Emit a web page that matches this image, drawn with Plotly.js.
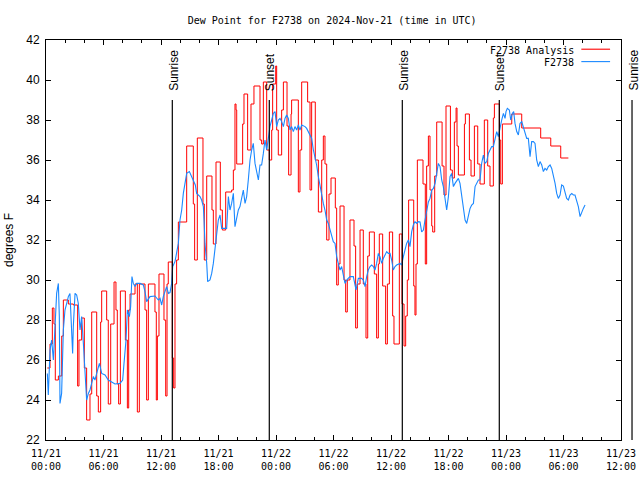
<!DOCTYPE html>
<html>
<head>
<meta charset="utf-8">
<script src="https://cdn.plot.ly/plotly-3.0.1.min.js"></script>
<style>html,body{margin:0;padding:0;background:#fff;}#chart{width:640px;height:480px;}</style>
</head>
<body>
<div id="chart"></div>
<script>
// Hours since 2024-11-21 00:00 UTC
const analysisHours = [0.14,0.42,0.66,0.83,0.97,1.29,1.64,1.81,2.33,2.85,3.30,3.44,3.72,4.00,4.24,4.59,4.77,5.29,5.46,5.70,5.81,6.33,6.50,6.75,7.10,7.30,7.44,7.58,7.76,8.28,8.49,8.63,8.77,9.29,9.53,9.74,10.33,10.50,10.68,11.37,11.51,11.62,11.79,12.31,12.49,12.63,12.76,13.18,13.32,13.46,13.63,13.81,14.68,15.37,15.51,15.79,16.38,16.52,16.77,17.32,17.46,17.74,18.19,18.40,18.75,19.37,19.55,19.72,19.83,19.90,20.52,20.66,21.04,21.39,21.70,22.33,22.50,22.68,23.03,23.30,23.55,23.65,23.97,24.07,24.24,24.59,24.77,25.15,25.32,25.57,25.63,26.33,26.50,26.68,27.30,27.55,27.72,28.10,28.42,28.77,28.94,29.11,29.29,29.53,29.74,30.19,30.33,30.50,30.68,31.10,31.27,31.44,31.72,32.14,32.31,32.49,32.77,33.11,33.39,33.57,33.74,34.26,34.50,34.68,34.78,35.13,35.44,35.62,35.83,36.17,36.31,36.87,37.15,37.36,37.53,37.70,37.84,38.37,38.50,38.61,38.75,39.34,39.58,39.72,39.90,40.07,40.25,40.35,40.56,40.77,41.33,41.53,41.74,42.20,42.40,42.61,42.79,42.89,43.03,43.66,43.76,44.18,44.35,44.70,45.05,45.29,45.74,46.09,46.33,46.68,46.79,47.31,47.45,47.62,48.60,49.64,51.62,52.67,53.71,54.51];
const analysisDewF = [25.6,26.8,28.6,27.8,25.0,25.2,27.2,29.0,28.8,28.75,24.7,27.0,28.1,25.6,23.0,24.3,28.4,24.2,23.4,27.9,29.45,28.0,23.8,27.8,29.9,28.5,24.8,23.8,29.45,27.0,23.6,28.5,29.3,29.8,23.4,29.8,28.5,24.0,29.8,28.4,24.0,27.2,30.3,28.0,24.2,29.8,30.9,26.1,24.6,29.8,31.0,32.9,36.7,33.8,31.0,37.1,33.8,31.0,35.2,33.5,31.8,35.9,33.5,32.5,34.4,34.5,35.5,38.8,38.5,35.8,37.8,39.3,36.5,38.8,39.7,37.0,36.8,39.9,36.5,36.0,37.5,39.8,40.7,37.5,36.25,38.5,39.9,37.7,35.25,38.3,39.0,34.4,36.5,39.9,38.9,34.5,38.9,36.0,33.4,36.0,37.2,35.8,32.0,34.3,35.1,33.6,29.75,30.8,33.7,30.0,28.4,30.0,33.0,31.7,27.6,29.8,32.5,29.8,27.1,31.2,32.4,30.3,27.1,30.8,32.3,29.7,26.8,29.8,32.4,28.2,26.8,32.3,28.8,26.7,28.2,30.0,34.0,29.7,28.25,30.8,36.0,34.8,30.8,35.7,37.2,34.5,32.7,32.4,35.2,37.9,35.7,34.25,38.7,35.5,35.1,37.9,38.6,36.7,35.25,37.8,38.3,36.0,35.2,37.7,35.8,34.8,38.0,35.7,34.7,38.1,38.8,37.0,34.8,37.8,38.3,37.6,37.1,36.7,36.1,36.1];

const obsHours = [0.14,0.24,0.42,0.59,0.77,0.94,1.11,1.29,1.39,1.46,1.63,1.81,1.98,2.16,2.33,2.50,2.68,2.78,2.85,3.03,3.20,3.37,3.55,3.72,3.90,4.07,4.24,4.42,4.59,4.94,5.11,5.29,5.57,5.81,6.16,6.50,6.85,7.20,7.72,8.00,8.14,8.35,8.49,8.70,8.83,8.97,9.11,9.29,9.46,9.81,10.16,10.33,10.50,10.68,10.85,11.37,11.72,11.90,12.07,12.24,12.42,12.59,12.77,12.94,13.11,13.22,13.46,13.63,13.81,13.98,14.16,14.33,14.50,14.68,14.96,15.20,15.37,15.58,15.72,15.90,16.07,16.24,16.42,16.49,16.59,16.77,16.87,17.11,17.29,17.46,17.63,17.81,17.98,18.16,18.33,18.50,18.85,19.03,19.20,19.37,19.55,19.72,19.90,20.07,20.24,20.42,20.59,20.77,20.94,21.11,21.29,21.46,21.63,21.81,21.98,22.16,22.33,22.50,22.68,22.85,23.03,23.20,23.37,23.55,23.72,23.90,24.07,24.24,24.42,24.59,24.77,24.94,25.11,25.29,25.46,25.63,25.81,25.98,26.16,26.33,26.50,26.68,27.03,27.20,27.37,27.55,27.72,27.90,28.07,28.24,28.42,28.59,28.77,28.94,29.11,29.29,29.46,29.63,29.81,29.98,30.16,30.33,30.50,30.68,30.85,31.03,31.20,31.37,31.72,32.07,32.24,32.35,32.59,32.94,33.11,33.29,33.46,33.63,33.81,33.98,34.16,34.33,34.50,34.68,34.85,35.03,35.20,35.37,35.55,35.72,35.90,36.07,36.24,36.42,36.59,36.94,37.11,37.29,37.46,37.63,37.81,37.98,38.16,38.33,38.50,38.68,38.85,39.03,39.20,39.38,39.55,39.73,39.90,40.07,40.25,40.42,40.60,40.77,40.94,41.12,41.29,41.46,41.64,41.81,41.99,42.16,42.33,42.51,42.68,42.86,43.03,43.20,43.38,43.55,43.73,43.90,44.07,44.25,44.42,44.60,44.77,44.94,45.12,45.29,45.46,45.64,45.81,45.99,46.16,46.33,46.51,46.68,46.86,47.03,47.20,47.38,47.55,47.73,47.90,48.00,48.14,48.35,48.49,48.66,48.80,48.94,49.12,49.29,49.46,49.64,49.81,50.03,50.16,50.33,50.51,50.68,50.86,51.03,51.20,51.38,51.55,51.73,51.90,52.07,52.25,52.42,52.60,52.77,52.94,53.12,53.29,53.46,53.64,53.81,53.99,54.16,54.33,54.51,54.68,54.86,55.03,55.20,55.38,55.55,55.73,55.90,56.07,56.25];
const obsDewF = [25.33,24.25,26.5,27.0,26.0,28.0,29.33,29.83,28.17,23.83,24.33,27.5,28.5,28.83,29.17,29.33,27.0,26.33,27.67,29.33,29.25,28.83,27.5,28.17,26.83,25.5,24.0,24.33,24.5,25.17,25.0,25.33,25.83,25.33,25.25,25.0,24.92,24.8,24.83,25.0,25.83,27.0,28.5,28.17,28.67,30.17,29.83,29.67,29.83,29.83,29.75,29.42,28.92,29.08,29.17,29.2,29.0,29.08,28.75,29.17,29.5,29.67,29.33,29.37,29.83,30.67,30.92,31.33,31.83,33.0,33.5,34.33,34.92,35.33,35.42,35.17,34.92,34.75,34.33,34.25,34.17,34.0,33.67,33.0,31.83,30.83,29.92,30.0,30.33,30.83,31.5,32.17,33.0,33.25,32.58,32.58,32.58,34.17,33.5,33.83,34.33,32.67,33.17,33.5,33.67,34.17,34.5,33.83,34.17,35.0,36.0,36.5,36.83,35.83,35.5,35.0,35.75,35.75,36.33,37.0,36.5,37.17,37.67,38.0,38.33,38.42,37.67,38.0,38.08,37.92,37.67,38.08,38.25,38.08,37.5,37.67,37.42,37.67,37.5,37.75,37.5,37.75,37.67,37.58,37.42,37.17,37.08,36.5,36.17,35.75,35.17,34.67,34.33,33.83,33.5,33.0,32.83,32.5,32.17,31.92,31.83,31.17,30.83,30.5,30.67,30.17,29.83,30.0,30.17,30.17,29.83,29.5,30.08,30.08,30.0,29.67,30.17,30.5,30.67,30.75,30.67,30.5,30.83,31.33,31.17,30.83,31.08,31.25,31.42,31.33,31.33,31.0,30.5,30.67,30.75,30.83,30.75,31.17,31.5,31.83,32.0,31.67,32.42,32.75,32.92,32.83,32.92,32.9,32.4,32.5,33.0,33.4,33.9,34.08,34.5,34.58,34.83,35.33,35.83,35.67,35.0,34.67,34.0,33.5,34.17,35.17,35.33,34.67,34.83,35.0,35.08,34.83,34.17,33.5,33.0,32.83,33.17,33.58,33.75,33.83,34.67,34.83,35.0,35.0,35.83,36.25,35.83,35.92,36.33,36.5,36.67,36.67,37.0,37.42,37.17,37.67,38.0,38.33,38.08,38.42,38.58,38.5,38.0,38.33,38.42,37.83,37.42,37.25,37.83,37.92,37.67,37.33,37.08,37.08,36.17,36.92,36.92,36.83,36.0,35.67,35.92,35.75,35.42,35.58,35.5,35.67,35.75,35.58,35.25,34.83,34.33,34.08,34.25,34.75,34.7,34.33,34.08,34.0,34.25,34.33,34.25,34.25,34.0,33.67,33.17,33.42,33.58,33.75];

const sunHours = [13.18, 23.30, 37.18, 47.30, 61.15];
const sunLabels = ["Sunrise", "Sunset", "Sunrise", "Sunset", "Sunrise"];
const seriesNames = ["F2738 Analysis", "F2738"];
const yTop = 42, yBottom = 22, rangeHours = 60;

const t0 = Date.UTC(2024, 10, 21, 0, 0, 0);
function toDate(h) {
  return new Date(t0 + Math.round(h * 3600000)).toISOString().replace('T', ' ').slice(0, 19);
}

const redColor = '#ff0000', blueColor = '#1a88ff';
const traces = [
  { x: analysisHours.map(toDate), y: analysisDewF, type: 'scatter', mode: 'lines',
    line: { color: redColor, width: 1, shape: 'hv' }, name: seriesNames[0] },
  { x: obsHours.map(toDate), y: obsDewF, type: 'scatter', mode: 'lines',
    line: { color: blueColor, width: 1.1 }, name: seriesNames[1] }
];

const mono = 'DejaVu Sans Mono';
const sans = 'Liberation Sans, Arial, sans-serif';
const lineTopFrac = (39 - yBottom) / (yTop - yBottom);
const labelBottomFrac = (39.4 - yBottom) / (yTop - yBottom);

const shapes = [];
const annotations = [];
sunHours.forEach((h, i) => {
  const fx = h / rangeHours;
  shapes.push({ type: 'line', xref: 'paper', yref: 'paper', x0: fx, x1: fx, y0: 0, y1: lineTopFrac,
    line: { color: 'black', width: 1.2 }, layer: 'above' });
  annotations.push({ xref: 'paper', yref: 'paper', x: fx, y: labelBottomFrac, text: sunLabels[i],
    textangle: -90, showarrow: false, xanchor: 'center', yanchor: 'bottom', xshift: 1,
    font: { family: sans, size: 12, color: 'black' }, borderpad: 0 });
});
// legend (text right-aligned, sample line on the right)
const legendRows = [0.975, 0.944];
const legendColors = [redColor, blueColor];
seriesNames.forEach((n, i) => {
  annotations.push({ xref: 'paper', yref: 'paper', x: 0.92, y: legendRows[i], text: n, showarrow: false,
    xanchor: 'right', yanchor: 'middle', font: { family: mono, size: 10, color: 'black' }, borderpad: 0 });
  shapes.push({ type: 'line', xref: 'paper', yref: 'paper', x0: 0.931, x1: 0.981, y0: legendRows[i] + 0.002, y1: legendRows[i] + 0.002,
    line: { color: legendColors[i], width: 1.1 } });
});

const layout = {
  width: 640, height: 480,
  margin: { l: 46, r: 19, t: 40, b: 40 },
  paper_bgcolor: 'white', plot_bgcolor: 'white',
  showlegend: false,
  title: { text: 'Dew Point for F2738 on 2024-Nov-21 (time in UTC)', font: { family: mono, size: 10, color: 'black' },
    x: 0.519, xanchor: 'center', y: 1 - 20 / 480, yanchor: 'middle' },
  xaxis: {
    type: 'date', range: [toDate(0), toDate(rangeHours)], tick0: toDate(0), dtick: 6 * 3600000,
    tickformat: '%m/%d<br>%H:%M', ticks: 'inside', ticklen: 5, tickcolor: 'black', tickwidth: 1,
    ticklabelstandoff: 4,
    showline: true, linecolor: 'black', linewidth: 1, mirror: 'ticks', showgrid: false, zeroline: false,
    tickfont: { family: mono, size: 10, color: 'black' },
    minor: { dtick: 2 * 3600000, ticks: 'inside', ticklen: 3, tickcolor: 'black', showgrid: false }
  },
  yaxis: {
    range: [yBottom, yTop], dtick: 2, tick0: 22, ticks: 'inside', ticklen: 5, tickcolor: 'black',
    ticklabelstandoff: 3,
    showline: true, linecolor: 'black', linewidth: 1, mirror: 'ticks', showgrid: false, zeroline: false,
    tickfont: { family: sans, size: 12, color: 'black' },
    title: { text: 'degrees F', font: { family: sans, size: 12, color: 'black' }, standoff: 10 }
  },
  shapes: shapes,
  annotations: annotations
};

Plotly.newPlot('chart', traces, layout, { displayModeBar: false, staticPlot: true });
</script>
</body>
</html>
